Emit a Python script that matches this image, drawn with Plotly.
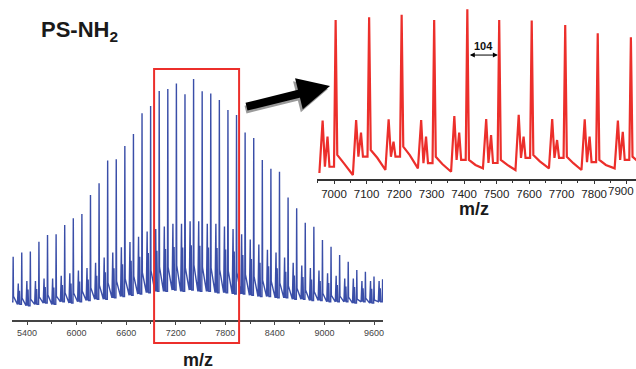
import plotly.graph_objects as go

# ---------------- data: main spectrum (PS-NH2) ----------------
main_mz = [5232, 5336, 5440, 5544, 5648, 5752, 5856, 5960, 6064, 6168, 6272,
           6376, 6480, 6584, 6688, 6792, 6896, 7000, 7104, 7208, 7312, 7416,
           7520, 7624, 7728, 7832, 7936, 8040, 8144, 8248, 8352, 8456, 8560,
           8664, 8768, 8872, 8976, 9080, 9184, 9288, 9392, 9496, 9600, 9704]
main_major = [24.3, 26.0, 26.3, 30.1, 32.7, 33.0, 36.5, 39.1, 40.8, 48.1, 52.6,
              61.3, 61.8, 66.9, 71.5, 79.5, 82.3, 88.1, 88.8, 91.0, 86.8, 92.7,
              88.0, 87.1, 84.6, 80.8, 78.8, 72.1, 70.0, 61.5, 58.2, 57.0, 47.1,
              43.0, 37.4, 35.9, 30.8, 28.2, 25.0, 22.4, 19.2, 18.6, 16.7, 15.7]
main_minor_a = [14, 14, 15, 15, 16, 16, 17, 18, 19, 20, 22,
                24, 26, 28, 30, 32, 34, 35, 36, 37, 37, 38,
                38, 37, 37, 36, 35, 33, 31, 29, 27, 26, 24,
                22, 21, 20, 19, 18, 17, 16, 16, 15, 15, 15]
main_minor_b = [11.5, 11.2, 11.7, 11.9, 12.7, 12.5, 13.5, 14.0, 14.8, 15.6, 17.0,
                18.4, 19.9, 21.4, 22.8, 24.3, 25.8, 26.6, 27.3, 28.1, 27.9, 28.7,
                28.6, 27.9, 27.7, 27.1, 26.3, 25.0, 23.5, 22.0, 20.7, 19.9, 18.6,
                17.1, 16.5, 15.6, 15.0, 14.2, 13.5, 12.9, 12.7, 12.2, 12.0, 12.2]
main_valley = [7, 6, 5.5, 6, 6.5, 6, 7, 6.5, 7, 7.5, 8,
               8, 8.5, 9, 9.5, 10, 10.5, 11, 11, 11.5, 11, 11.5,
               11, 11, 10.5, 10.5, 10, 10, 9.5, 9, 9, 8.5, 8.5,
               8, 8, 7.5, 7.5, 7, 7, 7, 6.5, 7, 6.5, 7]
main_shoulder = [9.1, 8.4, 8.0, 8.9, 9.7, 9.2, 10.5, 10.4, 11.1, 12.4, 13.4,
                 14.4, 14.9, 15.9, 16.9, 18.3, 19.1, 20.3, 20.3, 21.0, 20.1, 21.2,
                 20.2, 20.1, 19.4, 18.9, 18.3, 17.5, 16.8, 15.3, 14.9, 14.3, 13.1,
                 12.2, 11.5, 10.9, 10.3, 9.5, 9.2, 8.8, 8.0, 8.4, 7.7, 8.0]

# ---------------- data: inset (6950-7930) ----------------
inset_mz = [7005, 7108, 7208, 7308, 7410, 7508, 7608, 7711, 7811, 7913]
inset_major = [88.8, 90.4, 91.8, 88.8, 94.8, 88.8, 88.5, 86.1, 81.4, 79.2]
inset_minor_a = [32.7, 33.1, 33.5, 33.1, 35.3, 33.6, 35.9, 33.6, 33.5, 32.7]
inset_minor_b = [23.8, 26.0, 21.0, 23.8, 26.0, 24.7, 23.8, 21.9, 23.8, 26.5]
inset_dip = [7.0, 12.6, 12.6, 9.0, 10.8, 9.1, 11.9, 11.9, 9.6, 10.8]
inset_shoulder = [13.6, 16.3, 18.2, 12.6, 10.8, 10.8, 13.6, 12.6, 10.8, 12.6]
inset_tail = [9.0, 12.0, 13.5, 8.5, 8.0, 8.0, 10.0, 9.0, 8.0, 9.5]
inset_valley = [3.5, 2.4, 5.2, 6.1, 4.2, 6.1, 5.2, 6.1, 5.2, 6.1, 8.0]

main_ticks = [5400, 6000, 6600, 7200, 7800, 8400, 9000, 9600]
inset_ticks = [7000, 7100, 7200, 7300, 7400, 7500, 7600, 7700, 7800, 7900]
repeat_label = "104"

BLUE = "#3a4ea8"
RED = "#ec2f2b"

# build polyline vertices (peak profile: valley, minor A, dip, minor B, dip, rise, major, shoulder)
mx, my = [], []
for P, M, A, B, V, S in zip(main_mz, main_major, main_minor_a, main_minor_b,
                            main_valley, main_shoulder):
    mx += [P - 52, P - 42, P - 36, P - 28, P - 22, P - 4, P, P + 4]
    my += [V, A, V, B, V, V, M, S]

ix, iy = [], []
for i, P in enumerate(inset_mz):
    D = inset_dip[i]
    ix += [P - 50, P - 40, P - 33, P - 25, P - 19, P - 5, P, P + 5, P + 25]
    iy += [inset_valley[i], inset_minor_a[i], D, inset_minor_b[i], D, D,
           inset_major[i], inset_shoulder[i], inset_tail[i]]
ix.append(inset_mz[-1] + 50)
iy.append(inset_valley[-1])

W, H = 636, 369
TICKFONT2 = dict(family="Liberation Sans, Arial", size=11.5, color="#222")
fig = go.Figure()
fig.add_trace(go.Scatter(x=mx, y=my, mode="lines", line=dict(color=BLUE, width=1.4),
                         xaxis="x", yaxis="y", hoverinfo="skip", showlegend=False))
fig.add_trace(go.Scatter(x=ix, y=iy, mode="lines", line=dict(color=RED, width=2.2),
                         xaxis="x2", yaxis="y2", hoverinfo="skip", showlegend=False))

# last inset label would run past the page edge; it is drawn right-aligned below
inset_ticktext = [str(t) for t in inset_ticks[:-1]] + [""]

fig.update_layout(
    width=W, height=H,
    margin=dict(l=0, r=0, t=0, b=0),
    paper_bgcolor="white", plot_bgcolor="rgba(0,0,0,0)",
    showlegend=False,
    xaxis=dict(domain=[12 / W, 383 / W], range=[5218, 9709], anchor="y",
               showgrid=False, zeroline=False, showline=True, linecolor="#444",
               linewidth=1.5, ticks="outside", ticklen=3, tickwidth=1, tickcolor="#444",
               tickvals=main_ticks, ticktext=[str(t) for t in main_ticks],
               tickfont=dict(family="Liberation Sans, Arial", size=9, color="#444"),
               minor=dict(ticks="outside", ticklen=2, dtick=300, tick0=5400,
                          tickcolor="#444")),
    yaxis=dict(domain=[49 / H, 309 / H], range=[0, 100], visible=False, anchor="x"),
    xaxis2=dict(domain=[317.3 / W, 1], range=[6948.6, 7928.7], anchor="y2",
                showgrid=False, zeroline=False, showline=True, linecolor="#333",
                linewidth=1.5, ticks="outside", ticklen=3, tickwidth=1, tickcolor="#333",
                tickvals=inset_ticks, ticktext=inset_ticktext, ticklabelstandoff=0,
                tickfont=TICKFONT2,
                minor=dict(ticks="outside", ticklen=2, dtick=50, tick0=7000,
                           tickcolor="#333")),
    yaxis2=dict(domain=[189.7 / H, 1], range=[0, 100], visible=False, anchor="x2"),
)

fig.add_annotation(xref="paper", yref="paper", x=1.0, y=(H - 190.5) / H,
                   xanchor="right", yanchor="middle", showarrow=False,
                   text=str(inset_ticks[-1]), font=TICKFONT2)

# red zoom box on main spectrum
fig.add_shape(type="rect", xref="x", yref="paper", x0=6938, x1=7967,
              y0=26 / H, y1=300 / H, line=dict(color=RED, width=2))

# big arrow (shadow + black)
fig.add_annotation(xref="paper", yref="paper", x=328 / W, y=(H - 89) / H,
                   ax=-84, ay=21, axref="pixel", ayref="pixel", text="",
                   showarrow=True, arrowhead=2, arrowsize=0.8, arrowwidth=8,
                   arrowcolor="#9a9a9a")
fig.add_annotation(xref="paper", yref="paper", x=330 / W, y=(H - 86) / H,
                   ax=-85, ay=21, axref="pixel", ayref="pixel", text="",
                   showarrow=True, arrowhead=2, arrowsize=0.8, arrowwidth=8,
                   arrowcolor="black")

# 104 double arrow
fig.add_annotation(xref="x2", yref="y2", x=inset_mz[5] - 4, y=69.3,
                   ax=inset_mz[4] + 3, ay=69.3, axref="x2", ayref="y2", text="",
                   showarrow=True, arrowhead=2, startarrowhead=2, arrowside="end+start",
                   arrowsize=1, arrowwidth=1, arrowcolor="black")
fig.add_annotation(xref="x2", yref="y2", x=(inset_mz[4] + inset_mz[5]) / 2, y=74.5,
                   text="<b>" + repeat_label + "</b>", showarrow=False,
                   font=dict(family="Liberation Sans, Arial", size=11, color="#111"))

# texts
fig.add_annotation(xref="paper", yref="paper", x=39 / W, y=(H - 31) / H,
                   xanchor="left", yanchor="middle", showarrow=False,
                   text="<b>PS-NH<sub>2</sub></b>",
                   font=dict(family="Liberation Sans, Arial", size=22, color="#1a1a1a"))
fig.add_annotation(xref="paper", yref="paper", x=198 / W, y=(H - 360) / H,
                   xanchor="center", yanchor="middle", showarrow=False,
                   text="<b>m/z</b>",
                   font=dict(family="Liberation Sans, Arial", size=18, color="#1a1a1a"))
fig.add_annotation(xref="paper", yref="paper", x=474 / W, y=(H - 209) / H,
                   xanchor="center", yanchor="middle", showarrow=False,
                   text="<b>m/z</b>",
                   font=dict(family="Liberation Sans, Arial", size=18, color="#1a1a1a"))

fig.write_html("out.html")
